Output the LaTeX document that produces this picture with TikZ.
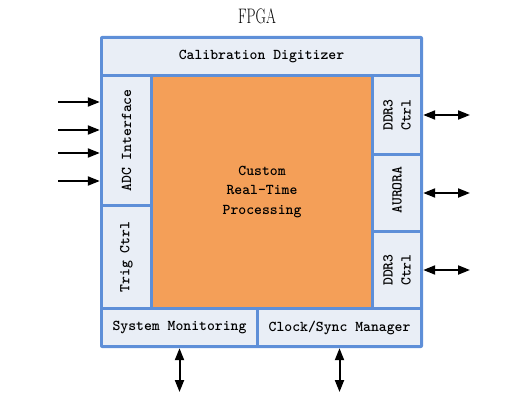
\documentclass[tikz,border=0pt]{standalone}
\usepackage{fontspec}
\usetikzlibrary{arrows.meta}
\definecolor{bord}{HTML}{5E8FD8}
\definecolor{cellc}{HTML}{E9EEF6}
\definecolor{orng}{HTML}{F49F58}
\tikzset{
  cell/.style={fill=cellc, inner sep=0pt, font=\fontsize{15}{18}\ttfamily\bfseries},
  proc/.style={fill=orng, inner sep=0pt, align=center, font=\fontsize{15}{19.5}\ttfamily\bfseries},
  vtext/.style={rotate=90, inner sep=0pt, align=center, font=\fontsize{15}{18}\ttfamily\bfseries},
  onearr/.style={line width=2pt, -{Triangle[length=12pt,width=9pt]}},
  dblarr/.style={line width=2pt, {Triangle[length=12pt,width=9pt]}-{Triangle[length=12pt,width=9pt]}}
}
\begin{document}
\begin{tikzpicture}[x=1pt,y=-1pt]
\useasboundingbox (0,0) rectangle (505,401);
\node[font=\fontsize{21}{22}\selectfont, xscale=0.68] (title) at (257,16) {FPGA};
\node[fill=bord, rounded corners=2pt, inner sep=0pt, minimum width=323pt, minimum height=312pt] (fpga) at (261.5,192) {};
\node[cell, minimum width=317pt, minimum height=35pt] (cal) at (261.5,56.5) {Calibration Digitizer};
\node[cell, minimum width=47pt, minimum height=127pt] (adc) at (126.5,140.5) {};
\node[cell, minimum width=47pt, minimum height=100pt] (trig) at (126.5,257) {};
\node[proc, minimum width=218pt, minimum height=230pt] (proc) at (262,192) {Custom\\Real-Time\\Processing};
\node[cell, minimum width=46pt, minimum height=76pt] (ddra) at (397,115) {};
\node[cell, minimum width=46pt, minimum height=74pt] (aur) at (397,193) {};
\node[cell, minimum width=46pt, minimum height=74pt] (ddrb) at (397,270) {};
\node[cell, minimum width=153pt, minimum height=35pt] (sys) at (179.5,327.5) {System Monitoring};
\node[cell, minimum width=161pt, minimum height=35pt] (clk) at (339.5,327.5) {Clock/Sync Manager};
\node[vtext] (adct) at (adc) {ADC Interface};
\node[vtext] (trigt) at (trig) {Trig Ctrl};
\node[vtext] (ddrat) at (ddra) {DDR3\\Ctrl};
\node[vtext] (aurt) at (397,190) {AURORA};
\node[vtext] (ddrbt) at (ddrb) {DDR3\\Ctrl};
% left inputs
\coordinate (l1) at (58,102);
\coordinate (l2) at (58,130);
\coordinate (l3) at (58,153);
\coordinate (l4) at (58,181);
\foreach \c in {l1,l2,l3,l4} \draw[onearr] (\c) -- (\c -| fpga.west);
% right bidirectional
\coordinate (rx) at (470,0);
\foreach \c in {ddra,aur,ddrb} \draw[dblarr] (\c -| fpga.east) -- (\c -| rx);
% bottom bidirectional
\coordinate (by) at (0,392);
\foreach \c in {sys,clk} \draw[dblarr] (\c |- fpga.south) -- (\c |- by);
\end{tikzpicture}
\end{document}
